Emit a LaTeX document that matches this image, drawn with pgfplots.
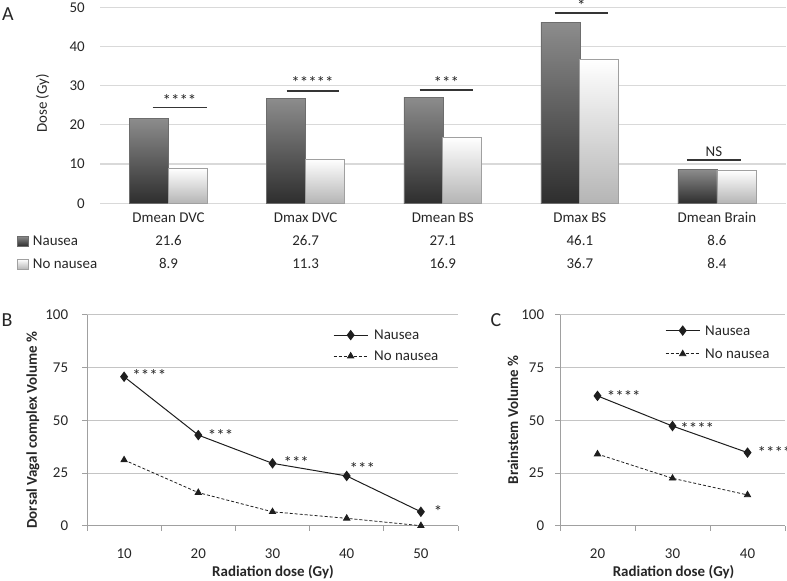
\documentclass[border=0pt]{standalone}
\usepackage{pgfplots}
\pgfplotsset{compat=1.18}
\usepackage{fontspec}
\setmainfont{Carlito}
\definecolor{txt}{HTML}{262626}
\definecolor{gridA}{HTML}{D9D9D9}
\definecolor{gridB}{HTML}{C4C4C4}
\definecolor{axB}{HTML}{A0A0A0}
\definecolor{nTop}{HTML}{8C8C8C}
\definecolor{nBot}{HTML}{2E2E2E}
\definecolor{oBot}{HTML}{B5B5B5}
\definecolor{ln}{HTML}{1E1E1E}
\newcommand{\fs}{\fontsize{15}{18}\selectfont}
\newcommand{\fsb}{\fontsize{15}{18}\selectfont\bfseries}
\newcommand{\fl}{\fontsize{20}{24}\selectfont}
\newcommand{\fst}{\fontsize{17}{18}\selectfont}

\tikzset{
  star/.style={anchor=base, inner sep=0pt, yshift=-8bp, font=\fst, text=txt},
  sig/.style={draw=ln!90, line width=1.5bp},
}
\pgfplotsset{
  nbar/.style={ybar, bar width=39bp, bar shift=-19.5bp, top color=nTop, bottom color=nBot, draw=nBot!70, line width=0.5bp,
    legend image code/.code={\path[##1] (0bp,-5bp) rectangle (11bp,5bp);}},
  obar/.style={ybar, bar width=39bp, bar shift=19.5bp, top color=white, bottom color=oBot, draw=axB, line width=0.8bp,
    legend image code/.code={\path[##1] (0bp,-5bp) rectangle (11bp,5bp);}},
  nline/.style={color=ln, line width=1bp, mark=diamond*, mark size=4.5bp, mark options={solid, fill=ln}},
  oline/.style={color=ln, line width=0.8bp, dash pattern=on 3bp off 2bp, mark=triangle*, mark size=3.6bp, mark options={solid, fill=ln}},
  lineleg/.style={legend image code/.code={\draw[mark repeat=2,mark phase=2,##1] plot coordinates {(0bp,0bp) (17bp,0bp) (34bp,0bp)};}},
}

\begin{document}
\begin{tikzpicture}[font=\fs, text=txt]
\path[use as bounding box] (0,0) rectangle (787bp,581bp);
% panel letters and labels
\node[font=\fl, text=txt] at (8bp,567bp) {A};
\node[font=\fl, text=txt] at (7bp,261bp) {B};
\node[font=\fl, text=txt] at (496bp,261bp) {C};
\node[rotate=90, font=\fs, text=txt] at (42.5bp,477.5bp) {Dose (Gy)};
\node[rotate=90, font=\fsb, text=txt] at (33bp,151bp) {Dorsal Vagal complex Volume \%};
\node[rotate=90, font=\fsb, text=txt] at (513bp,161bp) {Brainstem Volume \%};
\node[font=\fsb, text=txt] at (273bp,9bp) {Radiation dose (Gy)};
\node[font=\fsb, text=txt] at (673.5bp,9bp) {Radiation dose (Gy)};

% ---------------- Panel A ----------------
\begin{axis}[
  at={(100bp,377.7bp)}, anchor=south west, scale only axis,
  width=685.5bp, height=196bp,
  xmin=-0.5, xmax=4.5, ymin=0, ymax=50,
  xtick={0,1,2,3,4},
  xticklabels={Dmean DVC, Dmax DVC, Dmean BS, Dmax BS, Dmean Brain},
  ytick={0,10,20,30,40,50},
  major tick length=0pt,
  axis lines*=left,
  axis line style={-},
  y axis line style={draw=none},
  x axis line style={draw=gridA, line width=1.2bp},
  ymajorgrids, grid style={draw=gridA, line width=1.2bp},
  tick label style={font=\fs, text=txt},
  /pgf/number format/assume math mode=true,
  yticklabel style={anchor=east, inner sep=0pt, xshift=-15bp},
  xticklabel style={anchor=base, inner sep=0pt, yshift=-19bp},
  clip=false,
  legend style={at={(-0.1211,-0.1643)}, anchor=north west, draw=none, fill=none,
    inner sep=0pt, row sep=12bp, column sep=4bp,
    nodes={inner sep=0pt, font=\fs, text=txt, text height=10bp, text depth=1bp}},
  legend cell align=left,
]
\addplot[nbar] coordinates {(0,21.6)};
\addplot[obar] coordinates {(0,8.9)};
\addplot[nbar, forget plot] coordinates {(1,26.7)};
\addplot[obar, forget plot] coordinates {(1,11.3)};
\addplot[nbar, forget plot] coordinates {(2,27.1)};
\addplot[obar, forget plot] coordinates {(2,16.9)};
\addplot[nbar, forget plot] coordinates {(3,46.1)};
\addplot[obar, forget plot] coordinates {(3,36.7)};
\addplot[nbar, forget plot] coordinates {(4,8.6)};
\addplot[obar, forget plot] coordinates {(4,8.4)};
\legend{Nausea, No nausea}
% significance bars
\draw[sig] (axis cs:-0.117,24.4) -- (axis cs:0.277,24.4);
\draw[sig] (axis cs:0.861,28.7) -- (axis cs:1.241,28.7);
\draw[sig] (axis cs:1.832,28.9) -- (axis cs:2.219,28.9);
\draw[sig] (axis cs:2.818,48.6) -- (axis cs:3.204,48.6);
\draw[sig] (axis cs:3.781,11.0) -- (axis cs:4.175,11.0);
\node[star] at (axis cs:0.080,26.8) {****};
\node[star] at (axis cs:1.050,31.3) {*****};
\node[star] at (axis cs:2.026,31.3) {***};
\node[star] at (axis cs:3.011,50.9) {*};
\node[anchor=base, inner sep=0pt] at (axis cs:3.978,11.9) {NS};
% value table
\node[anchor=base, inner sep=0pt] at (axis cs:0,-10.77) {21.6};
\node[anchor=base, inner sep=0pt] at (axis cs:1,-10.77) {26.7};
\node[anchor=base, inner sep=0pt] at (axis cs:2,-10.77) {27.1};
\node[anchor=base, inner sep=0pt] at (axis cs:3,-10.77) {46.1};
\node[anchor=base, inner sep=0pt] at (axis cs:4,-10.77) {8.6};
\node[anchor=base, inner sep=0pt] at (axis cs:0,-16.63) {8.9};
\node[anchor=base, inner sep=0pt] at (axis cs:1,-16.63) {11.3};
\node[anchor=base, inner sep=0pt] at (axis cs:2,-16.63) {16.9};
\node[anchor=base, inner sep=0pt] at (axis cs:3,-16.63) {36.7};
\node[anchor=base, inner sep=0pt] at (axis cs:4,-16.63) {8.4};
\end{axis}

% ---------------- Panel B ----------------
\begin{axis}[
  at={(87bp,55.3bp)}, anchor=south west, scale only axis,
  width=371bp, height=210.7bp,
  xmin=5, xmax=55, ymin=0, ymax=100,
  xtick={10,20,30,40,50}, minor xtick={5,15,25,35,45,55},
  ytick={0,25,50,75,100},
  axis lines*=left, axis line style={draw=axB, line width=1bp, -},
  tick align=outside, major tick length=5bp, minor tick length=5bp,
  every major x tick/.append style={draw=none},
  tick style={draw=axB, line width=1bp},
  ymajorgrids, grid style={draw=gridB, line width=1bp},
  tick label style={font=\fs, text=txt},
  /pgf/number format/assume math mode=true,
  yticklabel style={anchor=east, inner sep=0pt, xshift=-13.7bp},
  xticklabel style={anchor=base, inner sep=0pt, yshift=-27.6bp},
  clip=false,
  legend style={at={(0.663,0.9315)}, anchor=north west, draw=none, fill=none,
    inner sep=0pt, row sep=10bp, column sep=6bp,
    nodes={inner sep=0pt, font=\fs, text=txt, text height=10bp, text depth=1bp}},
  legend cell align=left,
]
\addplot[nline, lineleg] coordinates {(10,70.7) (20,43.0) (30,29.6) (40,23.6) (50,6.6)};
\addplot[oline, lineleg] coordinates {(10,31.2) (20,15.7) (30,6.6) (40,3.5) (50,0)};
\legend{Nausea, No nausea}
\node[star] at (axis cs:13.4,72.0) {****};
\node[star] at (axis cs:23.0,43.6) {***};
\node[star] at (axis cs:33.2,30.9) {***};
\node[star] at (axis cs:42.1,28.3) {***};
\node[star] at (axis cs:52.3,7.9) {*};
\end{axis}

% ---------------- Panel C ----------------
\begin{axis}[
  at={(560bp,55.3bp)}, anchor=south west, scale only axis,
  width=225bp, height=210.7bp,
  xmin=15, xmax=45, ymin=0, ymax=100,
  xtick={20,30,40}, minor xtick={15,25,35,45},
  ytick={0,25,50,75,100},
  axis lines*=left, axis line style={draw=axB, line width=1bp, -},
  tick align=outside, major tick length=5bp, minor tick length=5bp,
  every major x tick/.append style={draw=none},
  tick style={draw=axB, line width=1bp},
  ymajorgrids, grid style={draw=gridB, line width=1bp},
  tick label style={font=\fs, text=txt},
  /pgf/number format/assume math mode=true,
  yticklabel style={anchor=east, inner sep=0pt, xshift=-10.7bp},
  xticklabel style={anchor=base, inner sep=0pt, yshift=-27.6bp},
  clip=false,
  legend style={at={(0.4667,0.953)}, anchor=north west, draw=none, fill=none,
    inner sep=0pt, row sep=12.3bp, column sep=5bp,
    nodes={inner sep=0pt, font=\fs, text=txt, text height=10bp, text depth=1bp}},
  legend cell align=left,
]
\addplot[nline, lineleg] coordinates {(20,61.6) (30,47.3) (40,34.7)};
\addplot[oline, lineleg] coordinates {(20,34.0) (30,22.5) (40,14.6)};
\legend{Nausea, No nausea}
\node[star] at (axis cs:23.5,62.5) {****};
\node[star] at (axis cs:33.3,47.3) {****};
\node[star] at (axis cs:43.6,35.5) {****};
\end{axis}
\end{tikzpicture}
\end{document}
